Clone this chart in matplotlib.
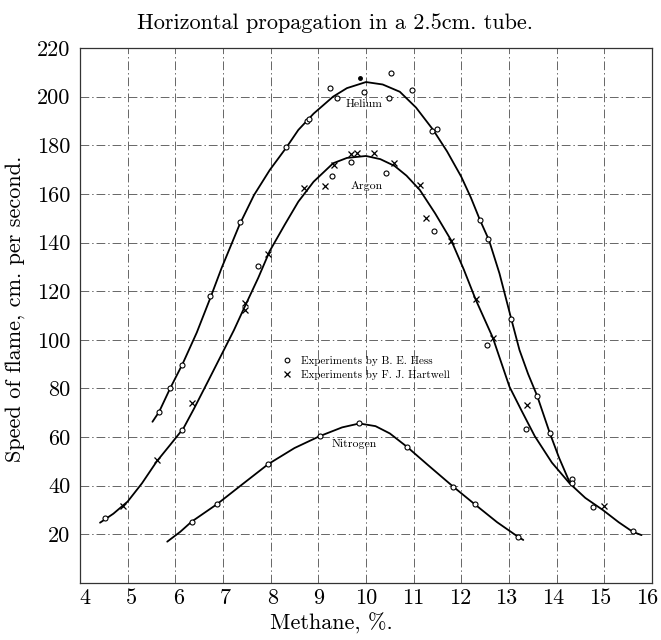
import matplotlib
matplotlib.use("Agg")
import matplotlib.pyplot as plt
import matplotlib.transforms as mtransforms
from matplotlib.lines import Line2D

plt.rcParams['font.family'] = ['cmr10', 'DejaVu Serif']
plt.rcParams['axes.formatter.use_mathtext'] = True

# ---- data ----
x_ticks = [4, 5, 6, 7, 8, 9, 10, 11, 12, 13, 14, 15, 16]
y_ticks = [20, 40, 60, 80, 100, 120, 140, 160, 180, 200, 220]

# smooth curves (traced points)
helium_x = [5.52, 5.66, 5.89, 6.15, 6.45, 6.73, 6.97, 7.35, 7.65, 7.98, 8.33, 8.58,
            8.9, 9.31, 9.6, 10.0, 10.35, 10.71, 11.05, 11.41, 11.7, 12.0, 12.2,
            12.39, 12.58, 12.8, 13.05, 13.22, 13.4, 13.59, 13.85, 14.05, 14.27]
helium_y = [66.3, 70.4, 80, 90, 103, 117, 129.5, 147.5, 159.5, 169.8, 179.1, 186.3,
            193, 200, 203.5, 206, 205, 202, 195.5, 186.3, 177.5, 167, 158.5,
            149.3, 141, 127.3, 108.4, 95.8, 86, 77, 62, 51.5, 41.5]

argon_x = [4.42, 4.7, 5.0, 5.3, 5.61, 5.9, 6.17, 6.4, 6.7, 7.0, 7.23, 7.46, 7.74,
           7.98, 8.3, 8.58, 8.9, 9.31, 9.6, 10.0, 10.3, 10.6, 10.85, 11.13, 11.45,
           11.79, 12.05, 12.3, 12.66, 13.01, 13.26, 13.54, 13.9, 14.27, 14.6, 14.97,
           15.3, 15.6, 15.78]
argon_y = [24.8, 28.5, 33.5, 41, 50, 57, 63.6, 72, 83.5, 95.1, 104, 113.8, 125.5,
           136.5, 147.5, 156.8, 165, 172.6, 174.8, 175.6, 174.3, 171.5, 167.5, 161.6,
           152, 140.8, 129, 116.6, 100.9, 80.7, 71, 60.4, 49.5, 41, 35, 30,
           25, 21, 19.7]

nitrogen_x = [5.83, 6.1, 6.34, 6.88, 7.4, 7.95, 8.5, 9.03, 9.5, 9.86, 10.2, 10.5,
              10.86, 11.3, 11.83, 12.28, 12.75, 13.19, 13.3]
nitrogen_y = [17, 21, 25.2, 32.5, 40.5, 48.9, 55.5, 60.4, 64, 65.6, 64.5, 61.5,
              56, 48.5, 39.6, 32.4, 25, 19, 17.7]

# experiments by B. E. Hess (circles)
hess_x = [4.52, 5.66, 5.89, 6.15, 6.15, 6.34, 6.73, 6.88, 7.35, 7.74, 7.95, 8.33,
          8.77, 8.81, 9.03, 9.24, 9.28, 9.39, 9.68, 9.86, 9.95, 10.41, 10.48, 10.52,
          10.86, 10.97, 11.39, 11.48, 11.42, 11.83, 12.28, 12.39, 12.54, 12.56, 13.05,
          13.19, 13.35, 13.59, 13.85, 14.32, 14.32, 14.76, 15.6]
hess_y = [26.6, 70.4, 80.3, 89.5, 62.9, 25.2, 118, 32.5, 148.6, 130.3, 48.9, 179.1,
          190, 191, 60.4, 203.4, 167.4, 199.6, 173, 65.6, 202, 168.5, 199.6, 209.8,
          56, 202.7, 186, 186.5, 144.7, 39.6, 32.4, 149.3, 97.9, 141.3, 108.4,
          19, 63.2, 77, 61.8, 42.6, 41.2, 31.4, 21.5]

# experiments by F. J. Hartwell (crosses)
hartwell_x = [4.91, 5.61, 6.36, 7.46, 7.46, 7.95, 8.69, 9.13, 9.33, 9.68, 9.81,
              10.17, 10.58, 11.14, 11.25, 11.79, 12.3, 12.66, 13.38, 15.0]
hartwell_y = [31.7, 50.6, 73.9, 112.3, 115, 135.3, 162.3, 163.4, 172, 176.4, 177,
              176.7, 172.6, 163.7, 150, 140.8, 116.6, 100.9, 73.2, 31.6]

extra_dot_x = [9.88]
extra_dot_y = [207.5]

gas_labels = ["Helium", "Argon", "Nitrogen"]
gas_label_x = [9.95, 10.02, 9.75]
gas_label_y = [197, 163.4, 57.2]

# ---- figure ----
fig = plt.figure(figsize=(6.61, 6.40), dpi=100)
ax = fig.add_axes([80/661, 1-583/640, 572/661, 535/640])

ax.set_xlim(4, 16)
ax.set_ylim(0, 220)

ax.set_xticks(x_ticks)
ax.set_xticklabels([str(t) for t in x_ticks], fontsize=16)
ax.set_yticks(y_ticks)
ax.set_yticklabels([str(t) for t in y_ticks], fontsize=16)
ax.tick_params(axis='x', length=0, pad=4)
ax.tick_params(axis='y', length=0, pad=7)

# the printed x labels sit slightly inward at both ends
xl = ax.get_xticklabels()
n = len(xl)
for i, lab in enumerate(xl):
    shift = 5 - 10 * i / (n - 1)
    lab.set_transform(lab.get_transform() +
                      mtransforms.ScaledTranslation(shift / 100, 0, fig.dpi_scale_trans))

ax.grid(True, color='#666666', linewidth=0.7, linestyle=(0, (9, 3, 1.5, 3)))
ax.set_axisbelow(True)
for s in ax.spines.values():
    s.set_color('#333333')
    s.set_linewidth(0.9)

line_kw = dict(color='black', linewidth=1.3, solid_capstyle='round',
               solid_joinstyle='round')
ax.plot(helium_x, helium_y, **line_kw)
ax.plot(argon_x, argon_y, **line_kw)
ax.plot(nitrogen_x, nitrogen_y, **line_kw)

ax.plot(hess_x, hess_y, linestyle='none', marker='o', markersize=3.6,
        markerfacecolor='white', markeredgecolor='black', markeredgewidth=0.8)
ax.plot(hartwell_x, hartwell_y, linestyle='none', marker='x', markersize=4.2,
        color='black', markeredgewidth=0.9)
ax.plot(extra_dot_x, extra_dot_y, linestyle='none', marker='o', markersize=2.5,
        color='black')

for lab, lx, ly in zip(gas_labels, gas_label_x, gas_label_y):
    ax.text(lx, ly, lab, fontsize=8.5, ha='center', va='center')

handles = [Line2D([], [], linestyle='none', marker='o', markersize=3.4,
                  markerfacecolor='white', markeredgecolor='black', markeredgewidth=0.8),
           Line2D([], [], linestyle='none', marker='x', markersize=4.0,
                  color='black', markeredgewidth=0.9)]
ax.legend(handles, ["Experiments by B. E. Hess", "Experiments by F. J. Hartwell"],
          loc='upper left', bbox_to_anchor=((283 - 80) / 572, (583 - 356) / 535),
          frameon=False, fontsize=8, handlelength=0.8, handletextpad=0.8,
          labelspacing=0.35, borderpad=0, borderaxespad=0)

ax.set_xlabel("Methane, %.", fontsize=16)
ax.xaxis.set_label_coords((331 - 80) / 572, (583 - 613) / 535)
ax.set_ylabel("Speed of flame, cm. per second.", fontsize=16)
ax.yaxis.set_label_coords((25 - 80) / 572, (583 - 309) / 535)
ax.set_title("Horizontal propagation in a 2.5cm. tube.", fontsize=16, pad=14,
             x=(335 - 80) / 572)

fig.savefig("out.png", dpi=100)
